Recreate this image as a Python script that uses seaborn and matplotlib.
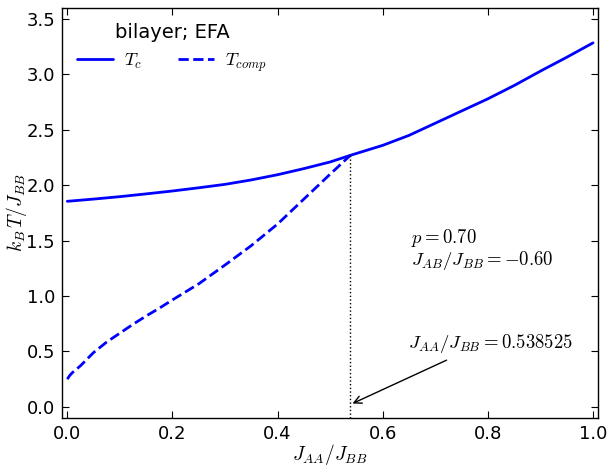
import matplotlib
matplotlib.use("Agg")
import matplotlib.pyplot as plt
import matplotlib.ticker as mticker
import numpy as np
import pandas as pd
import seaborn as sns

# values
jaa_tc = [0.0, 0.05, 0.1, 0.15, 0.2, 0.25, 0.3, 0.35, 0.4, 0.45, 0.5, 0.538525,
          0.6, 0.65, 0.7, 0.75, 0.8, 0.85, 0.9, 0.95, 1.0]
tc = [1.855, 1.875, 1.897, 1.922, 1.948, 1.977, 2.008, 2.048, 2.095, 2.15, 2.21, 2.27,
      2.36, 2.45, 2.56, 2.67, 2.78, 2.90, 3.03, 3.155, 3.285]

jaa_comp = [0.0, 0.005, 0.01, 0.025, 0.05, 0.075, 0.1, 0.125, 0.15, 0.175, 0.2,
            0.25, 0.3, 0.35, 0.4, 0.45, 0.5, 0.538525]
tcomp = [0.25, 0.285, 0.31, 0.37, 0.49, 0.585, 0.665, 0.745, 0.82, 0.89, 0.965,
         1.11, 1.28, 1.455, 1.65, 1.875, 2.1, 2.27]

j_comp_point = 0.538525
p_value = 0.70
jab_value = -0.60

sns.set_style("ticks", {"xtick.direction": "in", "ytick.direction": "in"})
plt.rcParams["mathtext.fontset"] = "cm"
plt.rcParams["font.family"] = ["DejaVu Sans"]
for k in ["text.color", "axes.labelcolor", "xtick.color", "ytick.color", "axes.edgecolor"]:
    plt.rcParams[k] = "black"

df_tc = pd.DataFrame({"x": jaa_tc, "y": tc})
df_comp = pd.DataFrame({"x": jaa_comp, "y": tcomp})

fig = plt.figure(figsize=(6.08, 4.68), dpi=100)
ax = fig.add_axes([0.102, 0.107, 0.882, 0.876])

sns.lineplot(x="x", y="y", data=df_tc, ax=ax, color="blue", lw=2, label=r"$T_c$")
sns.lineplot(x="x", y="y", data=df_comp, ax=ax, color="blue", lw=2, ls="--", label=r"$T_{comp}$")

# dotted marker of the compensation end point
ax.plot([j_comp_point, j_comp_point], [-0.1, tc[11]], color="black", ls=":", lw=1)

ax.annotate(r"$J_{AA}/J_{BB}=%s$" % j_comp_point, xy=(j_comp_point + 0.004, 0.03),
            xytext=(0.648, 0.53), fontsize=13.5,
            arrowprops=dict(arrowstyle="->", color="black", lw=1, shrinkA=3, shrinkB=0,
                            relpos=(0.3, 0.0)))
ax.text(0.654, 1.48, r"$p=%.2f$" % p_value, fontsize=13.5)
ax.text(0.654, 1.28, r"$J_{AB}/J_{BB}=%.2f$" % jab_value, fontsize=13.5)

ax.set_xlim(-0.01, 1.01)
ax.set_ylim(-0.1, 3.6)
ax.set_xticks(np.arange(0, 1.01, 0.2))
ax.set_yticks(np.arange(0, 3.51, 0.5))
ax.xaxis.set_major_formatter(mticker.FormatStrFormatter("%.1f"))
ax.yaxis.set_major_formatter(mticker.FormatStrFormatter("%.1f"))
ax.tick_params(top=True, right=True, labelsize=13, length=5, width=0.8, pad=5)
for s in ax.spines.values():
    s.set_linewidth(1.0)

ax.set_xlabel(r"$J_{AA}/J_{BB}$", fontsize=14)
ax.set_ylabel(r"$k_B\,T/J_{BB}$", fontsize=14)
ax.yaxis.set_label_coords(-0.062, 0.5)
ax.xaxis.set_label_coords(0.5, -0.058)

ax.legend(loc="upper left", ncol=2, frameon=False, title="bilayer; EFA",
          fontsize=13, title_fontsize=14, handlelength=2.0, handletextpad=0.6,
          columnspacing=2.0, borderaxespad=0.45)

plt.savefig("out.png", dpi=100)
